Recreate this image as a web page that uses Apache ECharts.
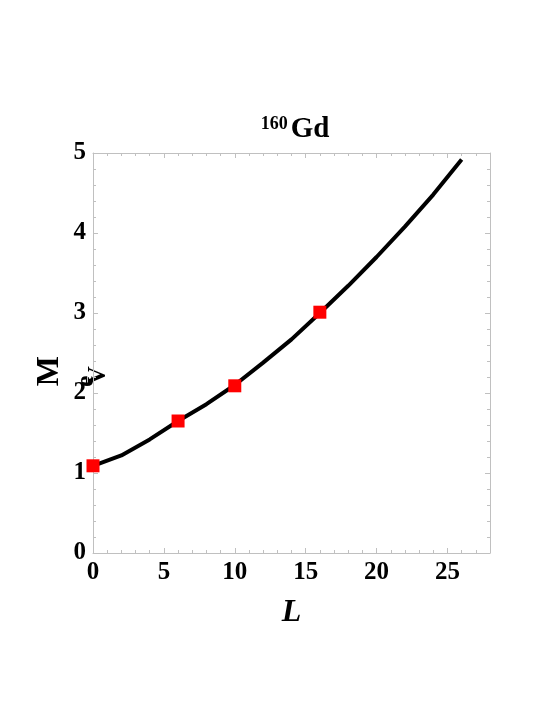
<!DOCTYPE html>
<html><head><meta charset="utf-8">
<script src="https://cdn.jsdelivr.net/npm/echarts@6/dist/echarts.min.js"></script>
<style>html,body{margin:0;padding:0;background:#fff}#c{width:540px;height:720px}</style>
</head><body><div id="c"></div>
<script>
const lineL = [0, 2, 4, 6, 8, 10, 12, 14, 16, 18, 20, 22, 24, 26];
const lineE = [1.09, 1.22, 1.42, 1.65, 1.86, 2.10, 2.38, 2.67, 3.00, 3.34, 3.70, 4.08, 4.48, 4.92];
const expL = [0, 6, 10, 16];
const expE = [1.09, 1.65, 2.09, 3.01];
const xTicks = [0, 5, 10, 15, 20, 25];
const yTicks = [0, 1, 2, 3, 4, 5];

const font = 'Liberation Serif';
const axColor = '#c0c0c0';
const chart = echarts.init(document.getElementById('c'));
function axisCommon(show, ticks) {
  return {
    axisLine: {show: true, onZero: false, lineStyle: {color: axColor, width: 1}},
    axisTick: {show: true, inside: true, length: 5, lineStyle: {color: axColor}},
    minorTick: {show: true, splitNumber: 5, length: 3, lineStyle: {color: axColor}},
    splitLine: {show: false},
    axisLabel: {show: show, color: '#000', fontFamily: font, fontWeight: 'bold', fontSize: 25, margin: 7,
      formatter: v => (ticks && ticks.includes(v)) ? String(v) : ''}
  };
}
chart.setOption({
  animation: false,
  title: {
    text: '{s|160}{b|Gd}', left: 290, top: 110, textAlign: 'center',
    textStyle: {rich: {
      s: {fontFamily: font, fontWeight: 'bold', fontSize: 18, verticalAlign: 'top', padding: [0, 3, 12, 0], color: '#000'},
      b: {fontFamily: font, fontWeight: 'bold', fontSize: 29, color: '#000'}
    }}
  },
  grid: {left: 93, right: 50, top: 153, height: 400},
  xAxis: [
    Object.assign({type: 'value', min: 0, max: 28, interval: 5, position: 'bottom',
      name: 'L', nameLocation: 'middle', nameGap: 44,
      nameTextStyle: {fontFamily: font, fontWeight: 'bold', fontStyle: 'italic', fontSize: 32, color: '#000'}},
      axisCommon(true, xTicks)),
    Object.assign({type: 'value', min: 0, max: 28, interval: 5, position: 'top'}, axisCommon(false))
  ],
  yAxis: [
    Object.assign({type: 'value', min: 0, max: 5, interval: 1, position: 'left'}, axisCommon(true, yTicks)),
    Object.assign({type: 'value', min: 0, max: 5, interval: 1, position: 'right'}, axisCommon(false))
  ],
  graphic: [
    {type: 'text', left: 34, top: 356, rotation: Math.PI / 2,
      style: {text: 'M', font: 'bold 32px "Liberation Serif"', fill: '#000'}},
    {type: 'text', x: 73, y: 387, rotation: Math.PI / 2,
      style: {text: 'e', font: 'bold 26px "Liberation Serif"', fill: '#000'}},
    {type: 'text', x: 85, y: 385, rotation: Math.PI / 2,
      style: {text: 'V', font: 'bold 26px "Liberation Serif"', fill: '#000'}}
  ],
  series: [
    {type: 'line', xAxisIndex: 0, yAxisIndex: 0, data: lineL.map((l, i) => [l, lineE[i]]),
      showSymbol: false, lineStyle: {color: '#000', width: 4}, z: 2},
    {type: 'scatter', xAxisIndex: 0, yAxisIndex: 0, data: expL.map((l, i) => [l, expE[i]]),
      symbol: 'rect', symbolSize: 13, itemStyle: {color: '#f00', opacity: 1}, z: 3}
  ]
});
</script></body></html>
